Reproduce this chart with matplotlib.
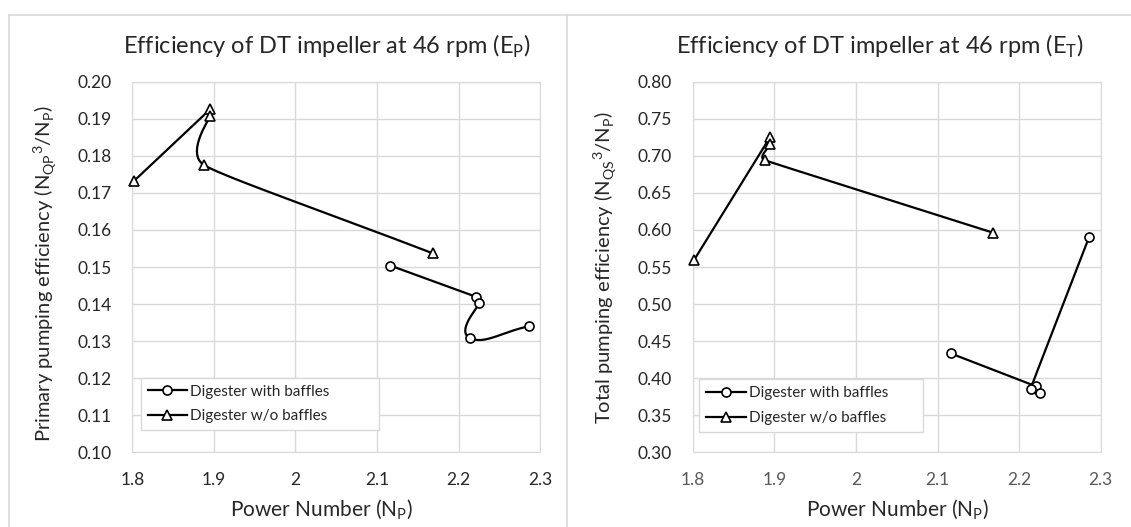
import numpy as np
import matplotlib
matplotlib.use('Agg')
import matplotlib.pyplot as plt
from matplotlib.lines import Line2D

plt.rcParams['font.family'] = ['Lato', 'DejaVu Sans']
plt.rcParams['mathtext.fontset'] = 'custom'
plt.rcParams['mathtext.rm'] = 'Lato'

# Power number (x) for both panels
np_baffles = [2.116, 2.221, 2.225, 2.214, 2.286]
np_no_baffles = [1.802, 1.895, 1.895, 1.888, 2.168]

# Primary pumping efficiency E_P
ep_baffles = [0.1504, 0.1420, 0.1402, 0.1308, 0.1340]
ep_no_baffles = [0.1732, 0.1925, 0.1907, 0.1775, 0.1537]

# Total pumping efficiency E_T
et_baffles = [0.4335, 0.3890, 0.3805, 0.3855, 0.5910]
et_no_baffles = [0.5600, 0.7258, 0.7160, 0.6943, 0.5963]

x_ticks = [1.8, 1.9, 2.0, 2.1, 2.2, 2.3]
x_ticklabels = ['1.8', '1.9', '2', '2.1', '2.2', '2.3']


def smooth(ax, xs, ys, n=40, k=0.45):
    # bezier through the points in display space (close to Excel's smoothed line)
    pts = ax.transData.transform(np.column_stack([xs, ys]))
    m = len(pts)
    seglen = [np.hypot(*(pts[i + 1] - pts[i])) for i in range(m - 1)]
    tan, reach = [], []
    for i in range(m):
        d = pts[min(i + 1, m - 1)] - pts[max(i - 1, 0)]
        tan.append(d / np.hypot(*d))
        near = [seglen[j] for j in (i - 1, i) if 0 <= j < m - 1]
        reach.append(min(near) * k)
    t = np.linspace(0, 1, n)[:, None]
    out = []
    for i in range(m - 1):
        p1, p2 = pts[i], pts[i + 1]
        c1 = p1 + tan[i] * reach[i]
        c2 = p2 - tan[i + 1] * reach[i + 1]
        seg = ((1 - t) ** 3) * p1 + 3 * ((1 - t) ** 2) * t * c1 + 3 * (1 - t) * t ** 2 * c2 + t ** 3 * p2
        out.append(seg)
    out = np.vstack(out)
    d = ax.transData.inverted().transform(out)
    return d[:, 0], d[:, 1]


fig = plt.figure(figsize=(11.31, 5.27), dpi=100)

# chart frame lines
fig.add_artist(Line2D([9 / 1131, 1], [1 - 15 / 527] * 2, color='#d9d9d9', lw=1.2))
fig.add_artist(Line2D([9 / 1131] * 2, [0, 1 - 15 / 527], color='#d9d9d9', lw=1.2))
fig.add_artist(Line2D([567 / 1131] * 2, [0, 1 - 15 / 527], color='#d9d9d9', lw=1.2))

panels = [
    dict(left=132.3, ylim=(0.10, 0.20), yticks=np.arange(0.10, 0.2001, 0.01),
         yb=ep_baffles, ynb=ep_no_baffles,
         title=r'Efficiency of DT impeller at 46 rpm (E$_{\mathregular{P}}$)', tx=327,
         ylabel=r'Primary pumping efficiency (N$_{\mathregular{QP}}$$^{\mathregular{3}}$/N$_{\mathregular{P}}$)',
         xlab_x=321, ylab_x=45, ylab_y=274, tickcol='#262626', leg=(140.7, 375.7, 238.3, 56.6)),
    dict(left=692.7, ylim=(0.30, 0.80), yticks=np.arange(0.30, 0.8001, 0.05),
         yb=et_baffles, ynb=et_no_baffles,
         title=r'Efficiency of DT impeller at 46 rpm (E$_{\mathregular{T}}$)', tx=880,
         ylabel=r'Total pumping efficiency (N$_{\mathregular{QS}}$$^{\mathregular{3}}$/N$_{\mathregular{P}}$)',
         xlab_x=897, ylab_x=605, ylab_y=268, tickcol='#595959', leg=(699, 377, 223.7, 57)),
]

for p in panels:
    ax = fig.add_axes([p['left'] / 1131, 1 - 452.3 / 527, 408 / 1131, 370.6 / 527])
    ax.set_xlim(1.8, 2.3)
    ax.set_ylim(*p['ylim'])
    ax.set_xticks(x_ticks)
    ax.set_xticklabels(x_ticklabels)
    ax.set_yticks(p['yticks'])
    ax.set_yticklabels(['%.2f' % v for v in p['yticks']])
    ax.grid(True, color='#d9d9d9', lw=1)
    ax.set_axisbelow(True)
    for s in ax.spines.values():
        s.set_color('#d9d9d9')
    ax.tick_params(length=0, labelsize=12.5)
    ax.tick_params(axis='x', pad=14, colors=p['tickcol'])
    ax.tick_params(axis='y', pad=15, colors='#262626')

    sx, sy = smooth(ax, np_baffles, p['yb'])
    ax.plot(sx, sy, color='black', lw=1.6, zorder=3, clip_on=False)
    ax.plot(np_baffles, p['yb'], ls='none', marker='o', ms=6.5, mfc='white', mec='black', mew=1.2,
            zorder=4, clip_on=False)
    sx, sy = smooth(ax, np_no_baffles, p['ynb'])
    ax.plot(sx, sy, color='black', lw=1.6, zorder=3, clip_on=False)
    ax.plot(np_no_baffles, p['ynb'], ls='none', marker='^', ms=7.5, mfc='white', mec='black', mew=1.2,
            zorder=4, clip_on=False)

    fig.text(p['xlab_x'] / 1131, 1 - 510 / 527, 'Power Number (N$_{\\mathregular{P}}$)', fontsize=15,
             ha='center', va='center', color='#262626')
    fig.text(p['ylab_x'] / 1131, 1 - p['ylab_y'] / 527, p['ylabel'], fontsize=14.5, rotation=90,
             ha='center', va='center', color='#262626')
    fig.text(p['tx'] / 1131, 1 - 46.7 / 527, p['title'], fontsize=17, ha='center', va='center',
             color='#262626')

    handles = [
        Line2D([], [], color='black', lw=1.6, marker='o', ms=6.5, mfc='white', mec='black', mew=1.2),
        Line2D([], [], color='black', lw=1.6, marker='^', ms=7.5, mfc='white', mec='black', mew=1.2),
    ]
    lx, ly, lw_, lh = p['leg']
    ax0 = ax.transAxes.inverted()
    a = ax0.transform(fig.transFigure.transform((lx / 1131, 1 - (ly + lh) / 527)))
    b = ax0.transform(fig.transFigure.transform(((lx + lw_) / 1131, 1 - ly / 527)))
    leg = ax.legend(handles, ['Digester with baffles', 'Digester w/o baffles'],
                    loc='center', bbox_to_anchor=(a[0], a[1], b[0] - a[0], b[1] - a[1]),
                    mode='expand', fontsize=11, fancybox=False, framealpha=1,
                    edgecolor='#d9d9d9', handlelength=2.6, borderpad=0.45, labelspacing=0.7,
                    handletextpad=0.2, borderaxespad=0)
    leg.get_frame().set_linewidth(1)
    for t in leg.get_texts():
        t.set_color('#262626')

fig.savefig('out.png', dpi=100)
